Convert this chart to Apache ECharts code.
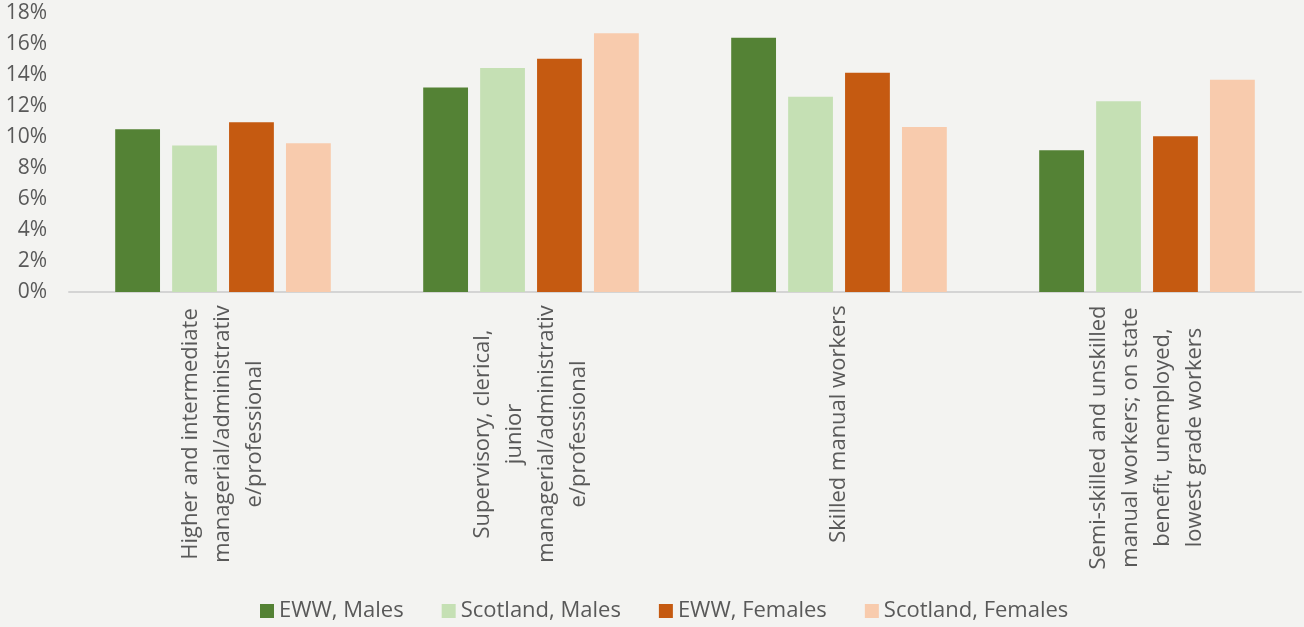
<!DOCTYPE html>
<html>
<head>
<meta charset="utf-8">
<script src="https://cdn.jsdelivr.net/npm/echarts@6/dist/echarts.min.js"></script>
<style>
  html, body { margin: 0; padding: 0; background: #f3f3f1; }
  #chart { width: 1304px; height: 627px; }
</style>
</head>
<body>
<div id="chart"></div>
<script>
const categories = [
  ['Higher and intermediate', 'managerial/administrativ', 'e/professional'],
  ['Supervisory, clerical,', 'junior', 'managerial/administrativ', 'e/professional'],
  ['Skilled manual workers'],
  ['Semi-skilled and unskilled', 'manual workers; on state', 'benefit, unemployed,', 'lowest grade workers']
];
const seriesNames = ['EWW, Males', 'Scotland, Males', 'EWW, Females', 'Scotland, Females'];
const ewwMales = [10.5, 13.2, 16.4, 9.15];
const scotlandMales = [9.45, 14.45, 12.6, 12.3];
const ewwFemales = [10.95, 15.05, 14.15, 10.05];
const scotlandFemales = [9.6, 16.7, 10.65, 13.7];
const yTicks = [0, 2, 4, 6, 8, 10, 12, 14, 16, 18];

const colors = ['#548235', '#C5E0B4', '#C55A11', '#F8CBAD'];
const fontFamily = '"Open Sans", sans-serif';
const catFontSize = 22;

// measure the longest line per category so lines can be centred within a block
const ctx = document.createElement('canvas').getContext('2d');
ctx.font = catFontSize + 'px "Open Sans"';
const rich = {};
categories.forEach((lines, i) => {
  const w = Math.max(...lines.map(l => ctx.measureText(l).width));
  rich['c' + i] = {
    width: Math.ceil(w) + 2,
    align: 'center',
    fontSize: catFontSize,
    lineHeight: 32,
    fontFamily: fontFamily,
    color: '#595959'
  };
});

const chart = echarts.init(document.getElementById('chart'));
const seriesData = [ewwMales, scotlandMales, ewwFemales, scotlandFemales];

chart.setOption({
  backgroundColor: '#f3f3f1',
  animation: false,
  grid: { left: 69, right: 3, top: 13, bottom: 335, containLabel: false },
  legend: {
    data: seriesNames,
    left: 260,
    top: 600,
    padding: 0,
    itemWidth: 14,
    itemHeight: 14,
    itemGap: 38,
    icon: 'rect',
    textStyle: { fontFamily: fontFamily, fontSize: 22, color: '#595959', padding: [0, 0, 0, 0] }
  },
  xAxis: {
    type: 'category',
    data: categories.map((c, i) => 'cat' + i),
    axisLine: { show: true, lineStyle: { color: '#d4d4d4', width: 2 } },
    axisTick: { show: false },
    splitLine: { show: false },
    axisLabel: {
      interval: 0,
      rotate: 90,
      margin: 12,
      formatter: function (value, idx) {
        return categories[idx].map(l => '{c' + idx + '|' + l + '}').join('\n');
      },
      rich: rich
    }
  },
  yAxis: {
    type: 'value',
    min: yTicks[0],
    max: yTicks[yTicks.length - 1],
    interval: 2,
    axisLine: { show: false },
    axisTick: { show: false },
    splitLine: { show: false },
    axisLabel: {
      margin: 22,
      formatter: '{value}%',
      fontFamily: fontFamily,
      fontSize: 21,
      color: '#595959'
    }
  },
  series: seriesNames.map((name, i) => ({
    name: name,
    type: 'bar',
    data: seriesData[i],
    barGap: '27%',
    barCategoryGap: '30%',
    itemStyle: { color: colors[i] }
  }))
});
</script>
</body>
</html>
